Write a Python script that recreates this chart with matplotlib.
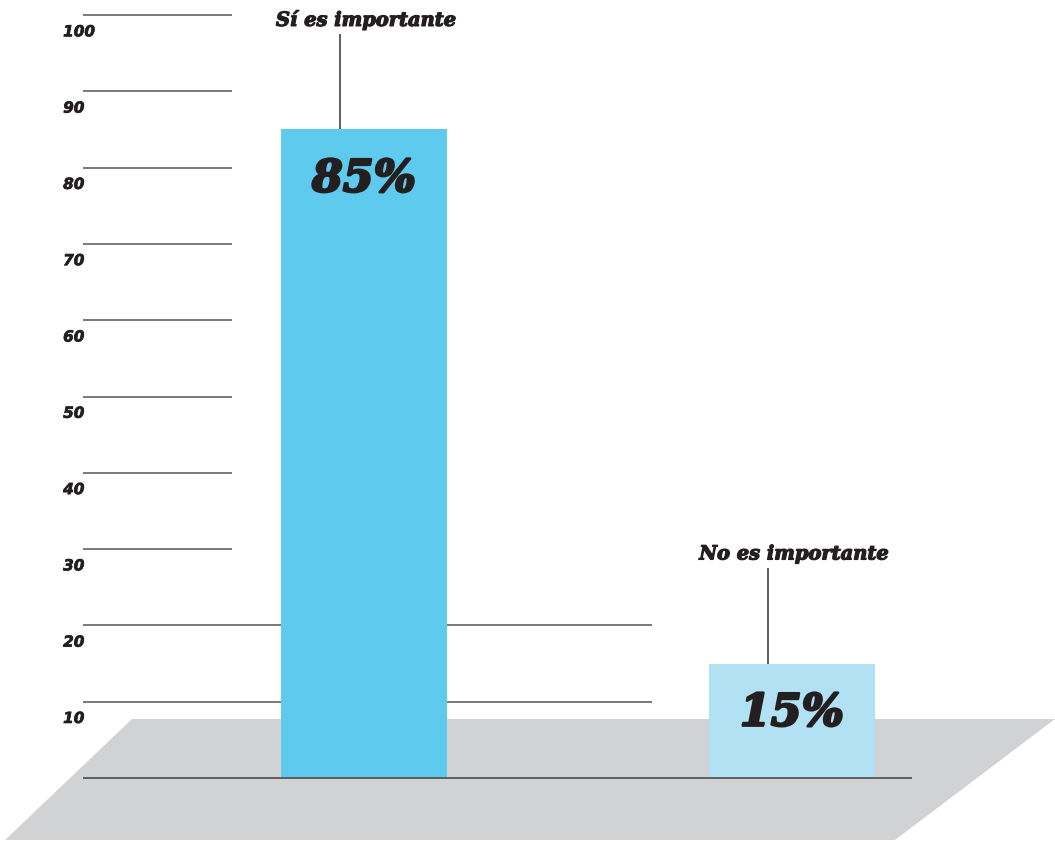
import matplotlib.pyplot as plt
import matplotlib.patheffects as pe
from matplotlib.patches import Polygon

categories = ["Sí es importante", "No es importante"]
values = [85, 15]
value_labels = ["85%", "15%"]
bar_colors = ["#5ecbee", "#b2e1f4"]
ticks = [10, 20, 30, 40, 50, 60, 70, 80, 90, 100]

W, H = 1055, 842
ink = "#231f20"
fig = plt.figure(figsize=(W / 100, H / 100), dpi=100)
ax = fig.add_axes([0, 0, 1, 1])
ax.set_xlim(-0.8505, 1.6145)
ax.set_ylim(-8.39, 101.97)
ax.axis("off")

# grey floor under the bars (axes fraction coords)
floor = Polygon(
    [(132 / W, 1 - 719 / H), (1.0, 1 - 719 / H), (895 / W, 1 - 840 / H), (5 / W, 1 - 840 / H)],
    closed=True, transform=ax.transAxes, facecolor="#d1d2d4", edgecolor="none", zorder=0,
)
ax.add_patch(floor)

heavy = [pe.withStroke(linewidth=0.9, foreground=ink)]
heavier = [pe.withStroke(linewidth=1.8, foreground=ink)]

# short grid lines at the left, the lowest two run across behind the first bar
for t in ticks:
    right = 0.673 if t <= 20 else -0.308
    ax.hlines(t, -0.6565, right, color="#555555", lw=1.1, zorder=1)
    ax.text(-0.703, t - 2.2, str(t), ha="left", va="center", fontsize=11,
            fontstyle="italic", fontweight="bold", family="DejaVu Sans", color=ink,
            path_effects=[pe.withStroke(linewidth=0.5, foreground=ink)])
ax.hlines(0, -0.6565, 1.2804, color="#555555", lw=1.3, zorder=3)

x = range(len(values))
ax.bar(x, values, width=0.388, color=bar_colors, zorder=2)

for i, (cat, v, lab) in enumerate(zip(categories, values, value_labels)):
    ax.vlines(i - 0.057, v, v + 12.5, color="#333333", lw=1.1, zorder=2)
    ax.text(i + 0.005, v + 14.3, cat, ha="center", va="center", fontsize=14,
            fontstyle="italic", fontweight="bold", family="DejaVu Serif", color=ink,
            path_effects=heavy)
    ax.text(i, v - 6.5, lab, ha="center", va="center", fontsize=32,
            fontstyle="italic", fontweight="bold", family="DejaVu Serif", color=ink,
            path_effects=heavier, zorder=4)

fig.savefig("out.png", dpi=100)
